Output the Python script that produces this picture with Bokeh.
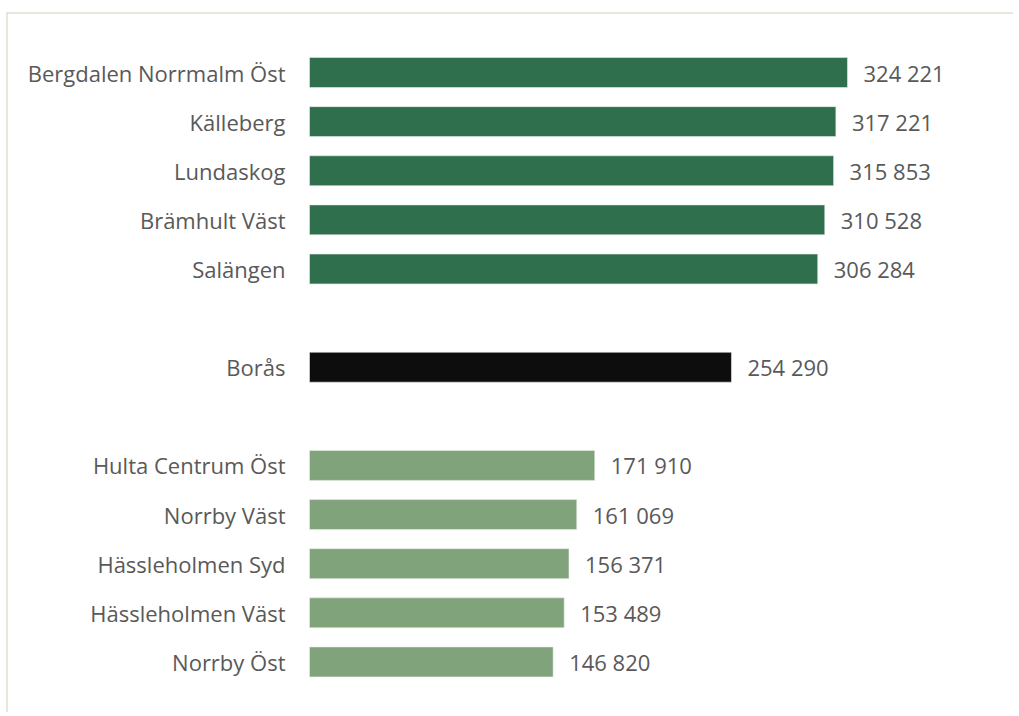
from bokeh.plotting import figure
from bokeh.models import ColumnDataSource, Range1d, Span
from bokeh.core.properties import value
from bokeh.embed import file_html
from bokeh.resources import INLINE

categories = ["Bergdalen Norrmalm Öst", "Källeberg", "Lundaskog", "Brämhult Väst", "Salängen",
              "", "Borås", "",
              "Hulta Centrum Öst", "Norrby Väst", "Hässleholmen Syd", "Hässleholmen Väst", "Norrby Öst"]
values = [324221, 317221, 315853, 310528, 306284, None, 254290, None,
          171910, 161069, 156371, 153489, 146820]
groups = ["top", "top", "top", "top", "top", "gap", "city", "gap",
          "low", "low", "low", "low", "low"]

palette = {"top": "#2f6f4d", "city": "#0d0d0d", "low": "#80a37c"}

def fmt(v):
    return f"{v:,}".replace(",", " ")

rows = [i for i, v in enumerate(values) if v is not None]
src = ColumnDataSource(dict(
    y=[i for i in rows],
    v=[values[i] for i in rows],
    name=[categories[i] for i in rows],
    lab=[fmt(values[i]) for i in rows],
    color=[palette[groups[i]] for i in rows],
))

W, H = 1013, 712
X0 = -182600
Y0 = -1.222
p = figure(width=W, height=H, output_backend="svg", toolbar_location=None,
           x_range=Range1d(X0, 424260), y_range=Range1d(13.03, Y0),
           min_border_left=6, min_border_right=0, min_border_top=12, min_border_bottom=0)
p.axis.visible = False
p.grid.visible = False
p.outline_line_color = None
p.background_fill_color = "white"
p.border_fill_color = "white"

p.add_layout(Span(location=Y0, dimension="width", line_color="#c9d3bd", line_width=2))
p.add_layout(Span(location=X0, dimension="height", line_color="#c9d3bd", line_width=2))

p.hbar(y="y", left=0, right="v", height=0.61, source=src, fill_color="color",
       line_color="#e8efe6", line_width=0.6)

p.text(x=0, y="y", text="name", source=src, x_offset=-24, text_align="right",
       text_baseline="middle", text_font=value("Open Sans"), text_font_size="22px",
       text_color="#595959")
p.text(x="v", y="y", text="lab", source=src, x_offset=16, text_align="left",
       text_baseline="middle", text_font=value("Open Sans"), text_font_size="22px",
       text_color="#595959")

open("out.html", "w").write(file_html(p, INLINE))
